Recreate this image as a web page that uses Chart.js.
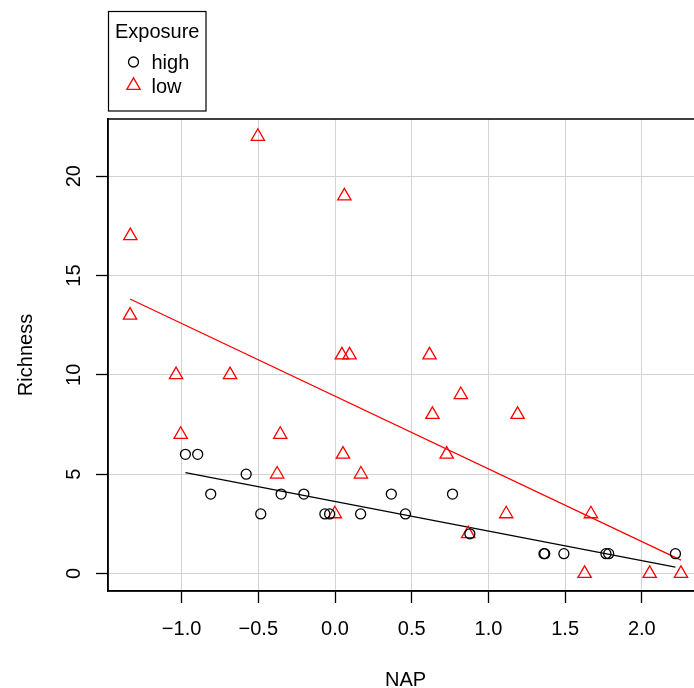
<!DOCTYPE html>
<html>
<head>
<meta charset="utf-8">
<script src="https://cdn.jsdelivr.net/npm/chart.js@4"></script>
<style>
  html, body { margin: 0; padding: 0; background: #fff; overflow: hidden; }
  canvas { display: block; }
</style>
</head>
<body>
<canvas id="chart" width="712" height="688"></canvas>
<script>
// Richness vs NAP, split by exposure
const highNAP = [-0.975, -0.895, -0.579, -0.810, -0.351, -0.203, 0.367, 0.766, -0.484, -0.066,
                 -0.035, 0.167, 0.459, 0.879, 1.362, 1.367, 1.492, 1.766, 1.784, 2.219];
const highRichness = [6, 6, 5, 4, 4, 4, 4, 4, 3, 3,
                      3, 3, 3, 2, 1, 1, 1, 1, 1, 1];

const lowNAP = [-0.503, 0.061, -1.334, -1.336, 0.045, 0.095, 0.616, -1.036, -0.684, 0.820,
                0.635, 1.190, -1.006, -0.357, 0.052, 0.728, -0.377, 0.169, -0.001, 1.116,
                1.668, 0.868, 1.627, 2.051, 2.255];
const lowRichness = [22, 19, 17, 13, 11, 11, 11, 10, 10, 9,
                     8, 8, 7, 7, 6, 6, 5, 5, 3, 3,
                     3, 2, 0, 0, 0];

// fitted lines (end points)
const highFitNAP = [-0.975, 2.219];
const highFitRichness = [5.08, 0.32];
const lowFitNAP = [-1.336, 2.255];
const lowFitRichness = [13.82, 0.67];

const xTicks = [-1.0, -0.5, 0.0, 0.5, 1.0, 1.5, 2.0];
const yTicks = [0, 5, 10, 15, 20];
const groupNames = ['high', 'low'];
const legendTitle = 'Exposure';

const FONT = '"Liberation Sans", Arial, Helvetica, sans-serif';

function toPoints(xs, ys) {
    return xs.map((x, i) => ({ x: x, y: ys[i] }));
}

// R style axis limits: data range plus 4%
function rLimits(values) {
    const lo = Math.min(...values), hi = Math.max(...values);
    const pad = (hi - lo) * 0.04;
    return [lo - pad, hi + pad];
}
const xLim = rLimits(highNAP.concat(lowNAP));
const yLim = rLimits(highRichness.concat(lowRichness));

function fmtNum(v) {
    return v.toFixed(1).replace('-', '\u2212');
}

// box, rotated y tick labels, legend
const rBasePlot = {
    id: 'rBasePlot',
    afterDraw(chart) {
        const ctx = chart.ctx;
        const area = chart.chartArea;
        const yScale = chart.scales.y;

        ctx.save();
        ctx.strokeStyle = '#000';
        ctx.lineWidth = 1.5;
        ctx.strokeRect(area.left, area.top, area.right - area.left, area.bottom - area.top);

        ctx.fillStyle = '#000';
        ctx.font = '20px ' + FONT;
        ctx.textAlign = 'center';
        ctx.textBaseline = 'alphabetic';
        yScale.ticks.forEach(t => {
            const py = yScale.getPixelForValue(t.value);
            ctx.save();
            ctx.translate(yScale.right - 28, py);
            ctx.rotate(-Math.PI / 2);
            ctx.fillText(t.label, 0, 0);
            ctx.restore();
        });

        // legend
        const lx = 108.5, ly = 11.5, lw = 97.5, lh = 99.5;
        ctx.lineWidth = 1.2;
        ctx.strokeRect(lx, ly, lw, lh);
        ctx.fillText(legendTitle, lx + lw / 2, 37.5);
        ctx.textAlign = 'left';
        const entries = chart.data.datasets.filter(d => groupNames.includes(d.label));
        entries.forEach((d, i) => {
            const sy = 62 + i * 23.5;
            ctx.strokeStyle = d.borderColor;
            ctx.fillStyle = 'rgba(0,0,0,0)';
            ctx.lineWidth = d.borderWidth;
            Chart.helpers.drawPoint(ctx, {
                pointStyle: d.pointStyle,
                radius: d.pointRadius,
                borderWidth: d.borderWidth,
                rotation: 0
            }, 133.5, sy);
            ctx.fillStyle = '#000';
            ctx.fillText(d.label, 151.5, sy + 7);
        });
        ctx.restore();
    }
};

new Chart(document.getElementById('chart'), {
    type: 'scatter',
    data: {
        datasets: [
            {
                label: 'high',
                data: toPoints(highNAP, highRichness),
                pointStyle: 'circle',
                pointRadius: 5,
                borderColor: '#000',
                backgroundColor: 'rgba(0,0,0,0)',
                borderWidth: 1.3
            },
            {
                label: 'low',
                data: toPoints(lowNAP, lowRichness),
                pointStyle: 'triangle',
                pointRadius: 7.7,
                borderColor: '#ff0000',
                backgroundColor: 'rgba(0,0,0,0)',
                borderWidth: 1.3
            },
            {
                label: 'high fit',
                data: toPoints(highFitNAP, highFitRichness),
                showLine: true,
                pointRadius: 0,
                borderColor: '#000',
                borderWidth: 1.3
            },
            {
                label: 'low fit',
                data: toPoints(lowFitNAP, lowFitRichness),
                showLine: true,
                pointRadius: 0,
                borderColor: '#ff0000',
                borderWidth: 1.3
            }
        ]
    },
    options: {
        responsive: false,
        animation: false,
        devicePixelRatio: 1,
        layout: { padding: { top: 119, right: 9, left: 0, bottom: 0 } },
        plugins: {
            legend: { display: false },
            tooltip: { enabled: false }
        },
        scales: {
            x: {
                type: 'linear',
                position: 'bottom',
                min: xLim[0],
                max: xLim[1],
                afterBuildTicks: scale => { scale.ticks = xTicks.map(v => ({ value: v })); },
                afterFit: scale => { scale.height = 97; },
                ticks: {
                    autoSkip: false,
                    maxRotation: 0,
                    minRotation: 0,
                    padding: 14,
                    color: '#000',
                    font: { family: FONT, size: 20 },
                    callback: v => fmtNum(v)
                },
                grid: {
                    color: '#d3d3d3',
                    lineWidth: 1,
                    drawTicks: true,
                    tickLength: 12,
                    tickColor: '#000',
                    tickWidth: 1.3
                },
                border: { display: true, color: '#000', width: 1.5 },
                title: {
                    display: true,
                    text: 'NAP',
                    color: '#000',
                    font: { family: FONT, size: 20, lineHeight: 1 },
                    padding: { top: 0, bottom: -2 }
                }
            },
            y: {
                type: 'linear',
                position: 'left',
                min: yLim[0],
                max: yLim[1],
                afterBuildTicks: scale => { scale.ticks = yTicks.map(v => ({ value: v })); },
                afterFit: scale => { scale.width = 108; },
                ticks: {
                    display: false,
                    callback: v => String(v)
                },
                grid: {
                    color: '#d3d3d3',
                    lineWidth: 1,
                    drawTicks: true,
                    tickLength: 12,
                    tickColor: '#000',
                    tickWidth: 1.3
                },
                border: { display: true, color: '#000', width: 1.5 },
                title: {
                    display: true,
                    text: 'Richness',
                    color: '#000',
                    font: { family: FONT, size: 20 },
                    padding: { top: 14, bottom: 0 }
                }
            }
        }
    },
    plugins: [rBasePlot]
});
</script>
</body>
</html>
